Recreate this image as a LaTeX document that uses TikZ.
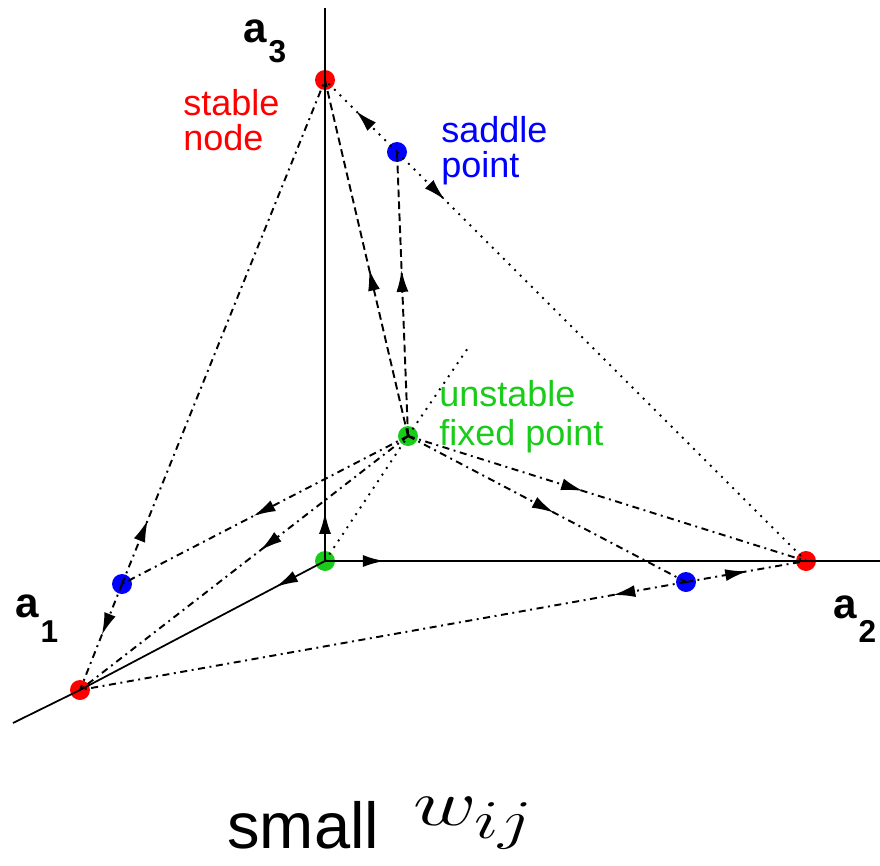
\documentclass[tikz,border=0pt]{standalone}
\usepackage{fontspec}
\setmainfont{Liberation Sans}
\usepackage{graphicx}
\usepackage{xcolor}
\usepackage{tikz}
\usetikzlibrary{arrows.meta, decorations.markings}
\definecolor{fpred}{HTML}{FF0000}
\definecolor{fpblue}{HTML}{0000FF}
\definecolor{fpgreen}{HTML}{19CC19}

\begin{document}
\begin{tikzpicture}[x=0.02cm, y=-0.02cm,
  fixpt/.style={circle, fill=#1, minimum size=0.4cm, inner sep=0pt},
  axis/.style={black, line width=1.6pt},
  edgeline/.style={black, line width=1.1pt, dash pattern=on 1.1pt off 3.4pt},
  orbit/.style={black, line width=1.1pt, dash pattern=on 4pt off 2.6pt on 1.1pt off 2.6pt},
  sepline/.style={black, line width=1.1pt, dash pattern=on 4.4pt off 2.4pt},
  flowat/.style={postaction={decorate}, decoration={markings, mark=at position #1 with {\arrow{Latex[length=4.4mm, width=2.4mm]}}}},
  lbl/.style={font=\fontsize{20.5}{#1}\selectfont, align=left, anchor=north west, inner sep=0pt},
  lbl/.default=20,
  axlbl/.style={font=\fontsize{24}{24}\selectfont\bfseries, anchor=base west, inner sep=0pt}
]
  \useasboundingbox (0,0) rectangle (880,866);

  % fixed points
  \node[fixpt=fpgreen] (O) at (325,561) {};
  \node[fixpt=fpred] (R3) at (325,80) {};
  \node[fixpt=fpred] (R2) at (806,561) {};
  \node[fixpt=fpred] (R1) at (80,690) {};
  \node[fixpt=fpblue] (S3) at (397,152) {};
  \node[fixpt=fpblue] (S1) at (122,584) {};
  \node[fixpt=fpblue] (S2) at (686,582) {};
  \node[fixpt=fpgreen] (U) at (408,436) {};

  \coordinate (a3end) at (325,8);
  \coordinate (a2end) at (880,561);
  \coordinate (a1end) at (13,723);
  \coordinate (diagend) at (470,345);

  % axes
  \draw[axis, flowat=0.089] (O.center) -- (a3end);
  \draw[axis, flowat=0.108] (O.center) -- (a2end);
  \draw[black, line width=1pt, flowat=0.2] (O.center) -- (R1.center);
  \draw[black, line width=1pt] (R1.center) -- (a1end);
  \draw[edgeline] (O.center) -- (U.center) -- (diagend);

  % edges of the simplex
  \draw[edgeline, flowat=0.57] (S3.center) -- (R3.center);
  \draw[edgeline, flowat=0.117] (S3.center) -- (R2.center);
  \draw[orbit, flowat=0.127] (S1.center) -- (R3.center);
  \draw[orbit, flowat=0.48] (S1.center) -- (R1.center);
  \draw[orbit, flowat=0.12] (S2.center) -- (R1.center);
  \draw[orbit, flowat=0.51] (S2.center) -- (R2.center);

  % orbits out of the unstable point
  \draw[sepline, flowat=0.47] (U.center) -- (R3.center);
  \draw[sepline, flowat=0.585] (U.center) -- (S3.center);
  \foreach \t/\p in {S1/0.54, R1/0.45, R2/0.44, S2/0.525}
    \draw[orbit, flowat=\p] (U.center) -- (\t.center);

  % labels
  \node[lbl, text=fpred] (stablelbl) at (183,89) {stable\\node};
  \node[lbl, text=fpblue] (saddlelbl) at (441,116) {saddle\\point};
  \node[lbl=22.5, text=fpgreen] (unstablelbl) at (439,380) {unstable\\fixed point};

  \node[axlbl] (a3lbl) at (243,42) {a\kern1pt\raisebox{-0.42cm}{\fontsize{18}{18}\selectfont 3}};
  \node[axlbl] (a1lbl) at (15,617) {a\kern1pt\raisebox{-0.5cm}{\fontsize{18}{18}\selectfont 1}};
  \node[axlbl] (a2lbl) at (833,618) {a\kern1pt\raisebox{-0.48cm}{\fontsize{18}{18}\selectfont 2}};

  \node[anchor=base west, inner sep=0pt, font=\fontsize{37}{37}\selectfont] (smalllbl) at (227,848) {small};
  \node[anchor=base west, inner sep=0pt, font=\fontsize{24.88}{25}\selectfont] (wlbl) at (413,825) {\scalebox{2.0}[1.5]{$w_{ij}$}};
\end{tikzpicture}
\end{document}
